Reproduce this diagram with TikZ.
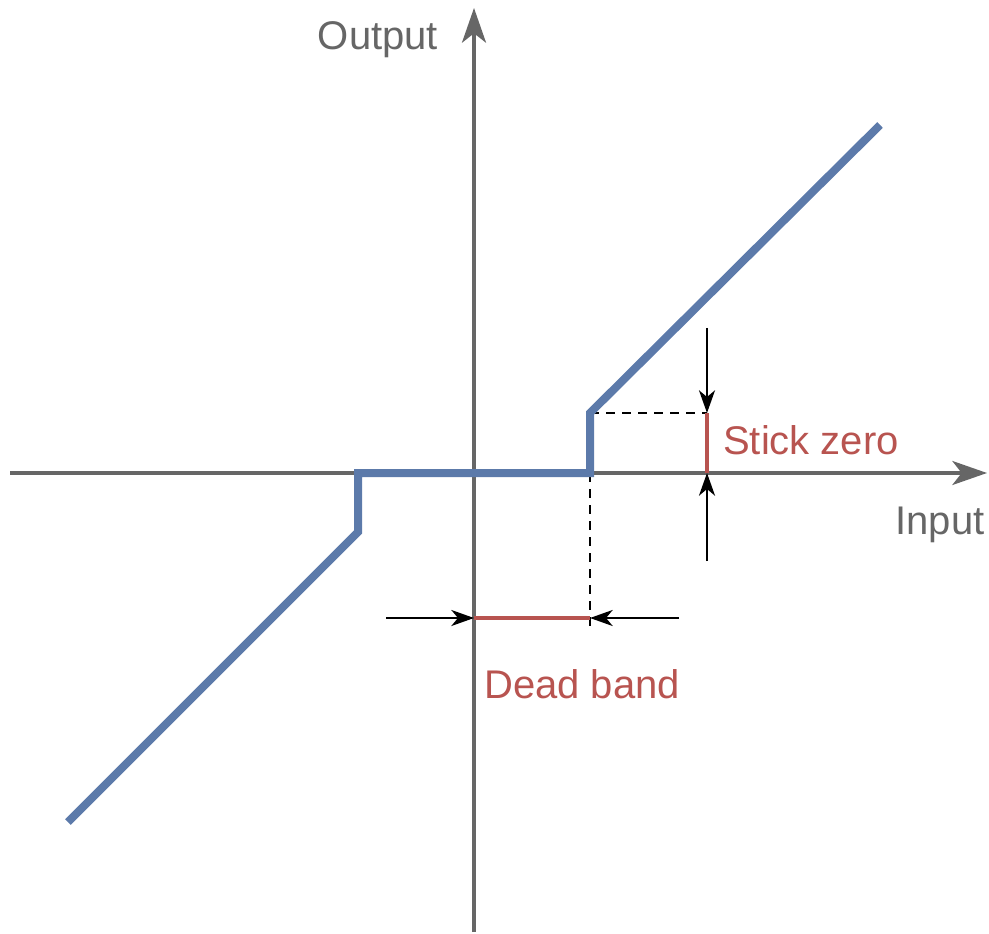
\documentclass[tikz,border=0pt]{standalone}
\usepackage{fontspec}
\setmainfont{Liberation Sans}
\usetikzlibrary{arrows.meta}
\definecolor{axisgray}{RGB}{102,102,102}
\definecolor{curveblue}{RGB}{92,122,170}
\definecolor{markred}{RGB}{184,84,80}
\begin{document}
\begin{tikzpicture}[x=0.75pt,y=-0.75pt,
  axisline/.style={draw=axisgray,line width=2.5pt,-{Stealth[length=26pt,width=18pt,inset=7pt]}},
  curve/.style={draw=curveblue,line width=6pt,line join=miter},
  dimarrow/.style={draw=black,line width=1.8pt,-{Stealth[length=17pt,width=12pt,inset=5pt]}},
  dashline/.style={draw=black,line width=1.8pt,dash pattern=on 7pt off 5pt},
  redseg/.style={draw=markred,line width=2.4pt},
  graylabel/.style={text=axisgray,font=\fontsize{30pt}{36pt}\selectfont,inner sep=0pt},
  redlabel/.style={text=markred,font=\fontsize{30pt}{36pt}\selectfont,inner sep=0pt}]
\useasboundingbox (0,0) rectangle (989,934);
% coordinates
\coordinate (xs) at (10,473);
\coordinate (xe) at (987,473);
\coordinate (ys) at (474,932);
\coordinate (ye) at (474,8);
\coordinate (c1) at (68,822);
\coordinate (c2) at (358,532);
\coordinate (c3) at (358,473);
\coordinate (c4) at (590,473);
\coordinate (c5) at (590,413);
\coordinate (c6) at (880,125);
\coordinate (sz) at (707,413);
\coordinate (sz0) at (707,473);
\coordinate (sztop) at (707,328);
\coordinate (szbot) at (707,561);
\coordinate (db0) at (474,618);
\coordinate (db1) at (590,618);
\coordinate (dbl) at (386,618);
\coordinate (dbr) at (679,618);
\coordinate (dashend) at (590,626);
% axes
\draw[axisline] (xs) -- (xe);
\draw[axisline] (ys) -- (ye);
% dashed guides
\draw[dashline] (c5) -- (sz);
\draw[dashline] (c4) -- (dashend);
% red segments
\draw[redseg] (sz) -- (sz0);
\draw[redseg] (db0) -- (db1);
% curve
\draw[curve] (c1) -- (c2) -- (c3) -- (c4) -- (c5) -- (c6);
% dimension arrows
\draw[dimarrow] (sztop) -- (sz);
\draw[dimarrow] (szbot) -- (sz0);
\draw[dimarrow] (dbl) -- (db0);
\draw[dimarrow] (dbr) -- (db1);
% labels
\node[graylabel,anchor=center] (outl) at (378,40) {Output};
\node[graylabel,anchor=center] (inl) at (940,525) {Input};
\node[redlabel,anchor=center] (szl) at (811,440) {Stick zero};
\node[redlabel,anchor=center] (dbl2) at (582,684) {Dead band};
\end{tikzpicture}
\end{document}
